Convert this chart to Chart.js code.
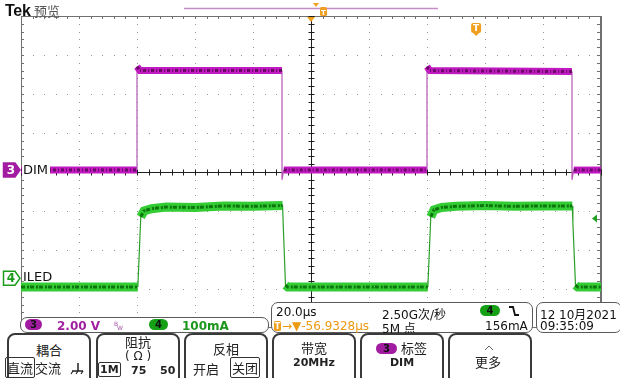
<!DOCTYPE html>
<html>
<head>
<meta charset="utf-8">
<script src="https://cdn.jsdelivr.net/npm/chart.js@4"></script>
<style>
  body { margin: 0; background: #fff; }
  #wrap { position: relative; width: 620px; height: 378px; overflow: hidden; font-family: "DejaVu Sans", "Noto Sans CJK SC", sans-serif; }
  #wrap canvas { position: absolute; left: 0; top: 0; }
  .t { position: absolute; white-space: nowrap; line-height: 1; }
  .cjk { font-family: "Noto Sans CJK SC", sans-serif; font-size: 13px; color: #222; }
  .box { position: absolute; box-sizing: border-box; border: 1.5px solid #5a5a5a; border-radius: 7px; background: #fff; }
  .btn { position: absolute; top: 333px; width: 84px; height: 60px; box-sizing: border-box; border: 2px solid #3a3a3a; border-radius: 8px; background: #fff; }
  .pill { position: absolute; height: 11px; border-radius: 6px; font: bold 10px "DejaVu Sans"; color: #111; text-align: center; line-height: 11px; }
  .sel { border: 1px solid #333; border-radius: 2px; padding: 0 1px; }
  .c { transform: translateX(-50%); }
</style>
</head>
<body>
<div id="wrap">
  <canvas id="scope" width="620" height="378"></canvas>

  <!-- top bar -->
  <div class="t" style="left:5px;top:2px;font:bold 16px 'Liberation Sans';color:#111;letter-spacing:-0.3px">Tek</div>
  <div class="t cjk" style="left:34px;top:4px;color:#555">预览</div>
  <svg class="t" style="left:0;top:0" width="620" height="17">
    <line x1="184" y1="8.5" x2="438" y2="8.5" stroke="#c68cc6" stroke-width="1.5"/>
    <polygon points="313,3 319,3 316,7" fill="#f0a020"/>
    <rect x="320" y="7" width="7" height="9" rx="1.5" fill="#f0a020"/>
    <text x="323.5" y="14.5" font-family="DejaVu Sans" font-weight="bold" font-size="7" fill="#fff" text-anchor="middle">T</text>
  </svg>

  <!-- channel readout -->
  <div class="box" style="left:20px;top:317px;width:249px;height:16px"></div>
  <div class="pill" style="left:25px;top:319px;width:17px;background:#a21ca2">3</div>
  <div class="t" style="left:57px;top:319px;font:bold 12px 'DejaVu Sans';color:#a020a0">2.00 V</div>
  <div class="t" style="left:114px;top:320px;font:6px 'DejaVu Sans';color:#a050a0">B</div>
  <div class="t" style="left:117px;top:324px;font:6px 'DejaVu Sans';color:#a050a0">W</div>
  <div class="pill" style="left:149px;top:319px;width:19px;background:#16a016">4</div>
  <div class="t" style="left:182px;top:319px;font:bold 12px 'DejaVu Sans';color:#1c961c">100mA</div>

  <!-- timebase readout -->
  <div class="box" style="left:271px;top:302px;width:262px;height:31px"></div>
  <div class="t" style="left:276px;top:305px;font:12px 'DejaVu Sans';color:#111">20.0µs</div>
  <svg class="t" style="left:274px;top:321px" width="8" height="11">
    <rect x="0" y="0" width="7" height="10" rx="1.5" fill="#f0a020"/>
    <text x="3.5" y="8" font-family="DejaVu Sans" font-weight="bold" font-size="8" fill="#fff" text-anchor="middle">T</text>
  </svg>
  <div class="t" style="left:282px;top:319px;font:12px 'DejaVu Sans';color:#eb9a12">→▼-56.9328µs</div>
  <div class="t" style="left:382px;top:305px;font:12px 'DejaVu Sans', 'Noto Sans CJK SC';color:#111">2.50G次/秒</div>
  <div class="t" style="left:382px;top:319px;font:12px 'DejaVu Sans', 'Noto Sans CJK SC';color:#111">5M 点</div>
  <div class="pill" style="left:480px;top:305px;width:20px;background:#16a016">4</div>
  <svg class="t" style="left:508px;top:305px" width="12" height="12">
    <polyline points="1,2 5,2 7,10 11,10" fill="none" stroke="#111" stroke-width="1.8"/>
  </svg>
  <div class="t" style="left:485px;top:319px;font:12px 'DejaVu Sans';color:#111">156mA</div>

  <!-- date -->
  <div class="box" style="left:536px;top:302px;width:86px;height:31px"></div>
  <div class="t" style="left:540px;top:305px;font:12px 'DejaVu Sans', 'Noto Sans CJK SC';color:#111">12 10月2021</div>
  <div class="t" style="left:540px;top:319px;font:12px 'DejaVu Sans';color:#111">09:35:09</div>

  <!-- soft buttons -->
  <div class="btn" style="left:7px"></div>
  <div class="btn" style="left:96px"></div>
  <div class="btn" style="left:184px"></div>
  <div class="btn" style="left:272px"></div>
  <div class="btn" style="left:360px"></div>
  <div class="btn" style="left:448px"></div>

  <div class="t cjk c" style="left:49px;top:343px">耦合</div>
  <div class="t cjk" style="left:5px;top:361px"><span class="sel">直流</span>交流</div>
  <svg class="t" style="left:70px;top:361px" width="14" height="14">
    <line x1="8" y1="2" x2="8" y2="10" stroke="#222" stroke-width="1.5"/>
    <line x1="2" y1="10" x2="13" y2="10" stroke="#222" stroke-width="1.5"/>
    <line x1="3" y1="10" x2="1" y2="13" stroke="#222" stroke-width="1.2"/>
    <line x1="8" y1="10" x2="6" y2="13" stroke="#222" stroke-width="1.2"/>
    <line x1="13" y1="10" x2="11" y2="13" stroke="#222" stroke-width="1.2"/>
  </svg>

  <div class="t cjk c" style="left:138px;top:335px">阻抗</div>
  <div class="t c" style="left:138px;top:349px;font:12px 'DejaVu Sans';color:#222">( Ω )</div>
  <div class="t" style="left:98px;top:363px;font:bold 11px 'DejaVu Sans';color:#222"><span class="sel">1M</span></div>
  <div class="t" style="left:131px;top:364px;font:bold 11px 'DejaVu Sans';color:#222">75</div>
  <div class="t" style="left:160px;top:364px;font:bold 11px 'DejaVu Sans';color:#222">50</div>

  <div class="t cjk c" style="left:226px;top:342px">反相</div>
  <div class="t cjk" style="left:193px;top:362px">开启</div>
  <div class="t cjk" style="left:230px;top:361px"><span class="sel">关团</span></div>

  <div class="t cjk c" style="left:314px;top:341px">带宽</div>
  <div class="t c" style="left:314px;top:356px;font:bold 11px 'DejaVu Sans';color:#222">20MHz</div>

  <div class="pill" style="left:376px;top:343px;width:21px;background:#a21ca2">3</div>
  <div class="t cjk" style="left:401px;top:341px">标签</div>
  <div class="t c" style="left:402px;top:356px;font:bold 11px 'DejaVu Sans';color:#222">DIM</div>

  <svg class="t" style="left:484px;top:345px" width="10" height="6">
    <polyline points="1,5 5,1 9,5" fill="none" stroke="#666" stroke-width="1"/>
  </svg>
  <div class="t cjk c" style="left:488px;top:355px">更多</div>
</div>

<script>
// channel scales (units per division) and ground positions (divisions from centre)
const ch3Scale = 2.0;      // V/div
const ch3Position = 0;
const ch4Scale = 100;      // mA/div
const ch4Position = -2.75;

const timePerDiv = 20;     // µs/div
const triggerOffset = 56.9328;   // µs
const triggerLevel = 156;        // mA

// CH3 DIM (V)
const dimTimes = [-100, -60, -60, -59, -10, -10, -9.4, 40, 40, 41, 90, 90, 90.6, 100];
const dimVolts = [0.1, 0.1, 5.4, 5.2, 5.2, -0.4, 0.1, 0.1, 5.4, 5.2, 5.15, -0.4, 0.1, 0.1];

// CH4 ILED (mA)
const iledTimes = [-100, -59.7, -58.7, -57.6, -55, -50, -40, -30, -20, -9.8, -9.6, -8.8, -8,
                   40.3, 41.3, 42.4, 45, 50, 60, 70, 80, 90.1, 90.3, 91.2, 92, 100];
const iledCurrent = [-20, -20, 160, 175, 181, 185, 184, 188, 187, 189, 145, -15, -20,
                     -20, 160, 178, 184, 187, 189, 187, 188, 188, 145, -15, -20, -20];

const toDiv = (times, vals, scale, pos) => times.map((t, i) => ({ x: t, y: vals[i] / scale + pos }));
const dimPts = toDiv(dimTimes, dimVolts, ch3Scale, ch3Position);
const iledPts = toDiv(iledTimes, iledCurrent, ch4Scale, ch4Position);

// edges of the square wave are drawn thin, the flat parts as a fat noisy band
const steep = c => Math.abs(c.p1.y - c.p0.y) > 3 * Math.abs(c.p1.x - c.p0.x) + 4;

const band = (pts, color, edge, width, order) => ({
  data: pts, borderColor: color, borderWidth: width, order, pointRadius: 0,
  segment: {
    borderWidth: c => steep(c) ? 1.2 : width,
    borderColor: c => steep(c) ? edge : color
  }
});
const noise = (pts, color, width, dash, order) => ({
  data: pts, borderColor: color, borderWidth: width, borderDash: dash, order, pointRadius: 0,
  segment: { borderColor: c => steep(c) ? 'rgba(0,0,0,0)' : color }
});

const scopeDeco = {
  id: 'scopeDeco',
  beforeDatasetsDraw(chart) {
    const { ctx, chartArea: a, scales: { x, y } } = chart;
    const px = t => Math.round(x.getPixelForValue(t));
    const py = d => Math.round(y.getPixelForValue(d));
    ctx.save();
    // dotted grid
    ctx.fillStyle = '#959595';
    for (let d = -4; d <= 4; d++) {
      if (d === 0) continue;
      for (let k = 0; k <= 40; k++) ctx.fillRect(px(d * timePerDiv), py(-4 + k * 0.2), 1, 1);
    }
    for (let d = -3; d <= 3; d++) {
      if (d === 0) continue;
      for (let k = 0; k <= 50; k++) ctx.fillRect(px(-100 + k * timePerDiv / 5), py(d), 1, 1);
    }
    // border
    ctx.strokeStyle = '#707070';
    ctx.lineWidth = 1;
    ctx.strokeRect(a.left + 0.5, a.top + 0.5, a.right - a.left - 1, a.bottom - a.top - 1);
    ctx.lineWidth = 2;
    ctx.beginPath(); ctx.moveTo(a.right, a.top); ctx.lineTo(a.right, a.bottom); ctx.stroke();
    // border ticks
    ctx.lineWidth = 1;
    ctx.beginPath();
    for (let k = 0; k <= 50; k++) {
      const xx = px(-100 + k * timePerDiv / 5) + 0.5;
      ctx.moveTo(xx, a.top); ctx.lineTo(xx, a.top + 3);
    }
    for (let k = 0; k <= 40; k++) {
      const yy = py(-4 + k * 0.2) + 0.5;
      ctx.moveTo(a.left, yy); ctx.lineTo(a.left + 3, yy);
      ctx.moveTo(a.right - 4, yy); ctx.lineTo(a.right, yy);
    }
    ctx.stroke();
    // centre cross with minor ticks
    const x0 = px(0) + 0.5, y0 = py(0) + 0.5;
    ctx.strokeStyle = '#1e1e1e';
    ctx.beginPath();
    ctx.moveTo(x0, a.top); ctx.lineTo(x0, a.bottom);
    ctx.moveTo(a.left, y0); ctx.lineTo(a.right, y0);
    for (let k = 0; k <= 40; k++) {
      const yy = py(-4 + k * 0.2) + 0.5;
      ctx.moveTo(x0 - 3, yy); ctx.lineTo(x0 + 3, yy);
    }
    for (let k = 0; k <= 50; k++) {
      const xx = px(-100 + k * timePerDiv / 5) + 0.5;
      ctx.moveTo(xx, y0 - 3); ctx.lineTo(xx, y0 + 3);
    }
    ctx.stroke();
    ctx.restore();
  },
  afterDatasetsDraw(chart) {
    const { ctx, chartArea: a, scales: { x, y } } = chart;
    ctx.save();
    const marker = (yc, fill, stroke, label, txtColor) => {
      ctx.beginPath();
      ctx.moveTo(3.5, yc - 7); ctx.lineTo(15, yc - 7); ctx.lineTo(20, yc); ctx.lineTo(15, yc + 7); ctx.lineTo(3.5, yc + 7);
      ctx.closePath();
      ctx.fillStyle = fill; ctx.fill();
      ctx.strokeStyle = stroke; ctx.lineWidth = 1.5; ctx.stroke();
      ctx.fillStyle = txtColor;
      ctx.font = 'bold 12px "DejaVu Sans"';
      ctx.textBaseline = 'middle'; ctx.textAlign = 'center';
      ctx.fillText(label, 11, yc + 1);
    };
    // CH3 ground marker and label
    const y3 = y.getPixelForValue(ch3Position) - 2;
    ctx.fillStyle = '#fff';
    ctx.fillRect(a.left + 1, y3 - 8, 28, 17);
    marker(y3, '#a21ca2', '#a21ca2', '3', '#fff');
    ctx.fillStyle = '#111';
    ctx.font = '13px "DejaVu Sans"'; ctx.textAlign = 'left'; ctx.textBaseline = 'middle';
    ctx.fillText('DIM', 23, y3 + 1);
    // CH4 ground marker and label
    const y4 = y.getPixelForValue(ch4Position) - 1;
    ctx.fillStyle = '#fff';
    ctx.fillRect(a.left + 1, y4 - 8, 28, 11);
    marker(y4, '#fff', '#1c9c1c', '4', '#1c9c1c');
    ctx.fillStyle = '#111';
    ctx.font = '13px "DejaVu Sans"'; ctx.textAlign = 'left'; ctx.textBaseline = 'middle';
    ctx.fillText('ILED', 23, y4 - 1);
    // trigger level arrow (CH4)
    const ty = y.getPixelForValue(triggerLevel / ch4Scale + ch4Position);
    ctx.fillStyle = '#22a022';
    ctx.beginPath();
    ctx.moveTo(a.right - 9, ty); ctx.lineTo(a.right - 4, ty - 4); ctx.lineTo(a.right - 4, ty + 4);
    ctx.closePath(); ctx.fill();
    // expansion point and trigger position
    const x0 = x.getPixelForValue(0);
    ctx.fillStyle = '#f0a020';
    ctx.beginPath();
    ctx.moveTo(x0 - 4, a.top + 1); ctx.lineTo(x0 + 4, a.top + 1); ctx.lineTo(x0, a.top + 6);
    ctx.closePath(); ctx.fill();
    const tx = x.getPixelForValue(triggerOffset);
    ctx.beginPath();
    ctx.roundRect(tx - 5, 23, 10, 10, 2);
    ctx.moveTo(tx - 3, 33); ctx.lineTo(tx + 3, 33); ctx.lineTo(tx, 36);
    ctx.fill();
    ctx.fillStyle = '#fff';
    ctx.font = 'bold 9px "DejaVu Sans"'; ctx.textAlign = 'center'; ctx.textBaseline = 'middle';
    ctx.fillText('T', tx, 28.5);
    ctx.restore();
  }
};

new Chart(document.getElementById('scope'), {
  type: 'line',
  data: {
    datasets: [
      noise(dimPts, '#6a0a68', 3, [3, 2, 1, 2], 1),
      band(dimPts, '#c01ac0', '#b458b4', 7, 2),
      noise(iledPts, '#0c760c', 3, [4, 2, 2, 1], 3),
      band(iledPts, '#34cc34', '#2aa02a', 9, 4)
    ]
  },
  options: {
    responsive: false,
    animation: false,
    layout: { padding: { left: 21, right: 19, top: 16, bottom: 50 } },
    scales: {
      x: { type: 'linear', min: -100, max: 100, display: false },
      y: { type: 'linear', min: -4, max: 4, display: false }
    },
    plugins: { legend: { display: false }, tooltip: { enabled: false } }
  },
  plugins: [scopeDeco]
});
</script>
</body>
</html>
